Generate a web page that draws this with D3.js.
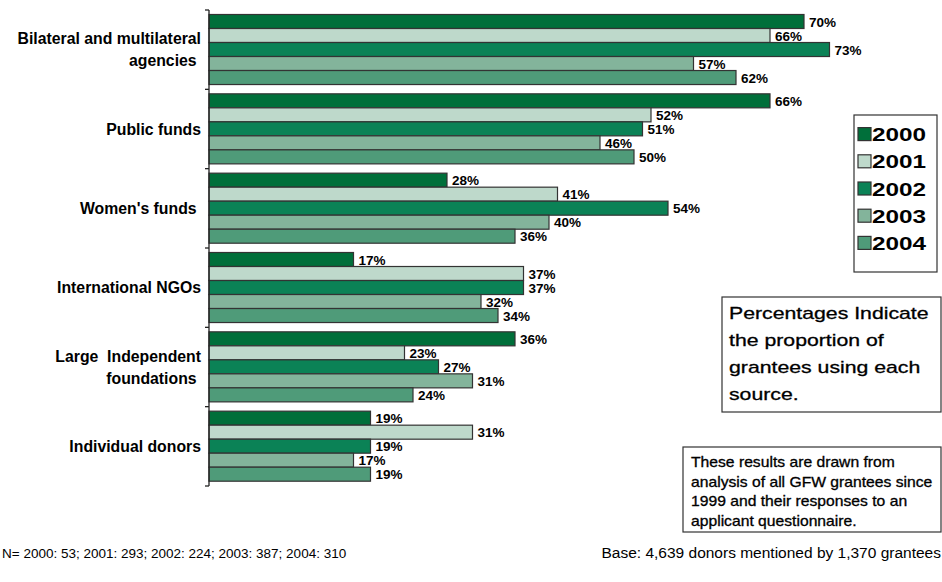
<!DOCTYPE html>
<html>
<head>
<meta charset="utf-8">
<script src="https://cdn.jsdelivr.net/npm/d3@7"></script>
<style>
  body { margin: 0; background: #fff; }
  text { font-family: "Liberation Sans", Arial, sans-serif; white-space: pre; }
</style>
</head>
<body>
<svg width="942" height="582"></svg>
<script>
// ---- data ----
let categories = ["Bilateral and multilateral\nagencies ", "Public funds", "Women's funds ",
                  "International NGOs", "Large  Independent\nfoundations ", "Individual donors"];
let years = ["2000", "2001", "2002", "2003", "2004"];
let v2000 = [70, 66, 28, 17, 36, 19];
let v2001 = [66, 52, 41, 37, 23, 31];
let v2002 = [73, 51, 54, 37, 27, 19];
let v2003 = [57, 46, 40, 32, 31, 17];
let v2004 = [62, 50, 36, 34, 24, 19];
let series = [v2000, v2001, v2002, v2003, v2004];
let colors = ["#006f3a", "#bed9cb", "#0b8256", "#83b49b", "#4f9b79"];

let note1 = ["Percentages Indicate", "the proportion of", "grantees using each", "source."];
let note2 = ["These results are drawn from", "analysis of all GFW grantees since",
             "1999 and their responses to an", "applicant questionnaire."];
let footLeft = "N= 2000: 53; 2001: 293; 2002: 224; 2003: 387; 2004: 310";
let footRight = "Base: 4,639 donors mentioned by 1,370 grantees";

//--------------------------------------
let svg = d3.select("svg");

let x = d3.scaleLinear().domain([0, 100]).range([209, 1059]);
let y = d3.scaleBand().domain(categories).range([10, 486]);
let yInner = d3.scaleBand().domain(years).range([4.5, y.bandwidth() - 4.8]);

let rows = [];
categories.forEach(function(c, i) {
  years.forEach(function(yr, j) {
    rows.push({cat: c, year: yr, value: series[j][i], color: colors[j]});
  });
});

let bars = svg.append("g").attr("class", "bars")
  .selectAll("rect")
  .data(rows)
  .enter().append("rect")
    .attr("x", x(0))
    .attr("y", function(d) { return y(d.cat) + yInner(d.year); })
    .attr("width", function(d) { return x(d.value) - x(0); })
    .attr("height", yInner.bandwidth())
    .attr("fill", function(d) { return d.color; })
    .style("stroke", "#333")
    .style("stroke-width", 1.2);

svg.append("g").attr("class", "values")
  .selectAll("text")
  .data(rows)
  .enter().append("text")
    .attr("x", function(d) { return x(d.value) + 5; })
    .attr("y", function(d) { return y(d.cat) + yInner(d.year) + yInner.bandwidth() / 2 + 5; })
    .style("font-size", "13.5px")
    .style("font-weight", "bold")
    .text(function(d) { return d.value + "%"; });

// axis: line plus ticks on the band edges
let edges = categories.map(function(c) { return y(c); }).concat([y.range()[1]]);
let axis = svg.append("g").attr("class", "axis");
axis.append("line")
  .attr("x1", x(0)).attr("x2", x(0))
  .attr("y1", edges[0]).attr("y2", edges[edges.length - 1])
  .style("stroke", "#222").style("stroke-width", 1.3);
axis.selectAll(".tick")
  .data(edges)
  .enter().append("line")
    .attr("class", "tick")
    .attr("x1", x(0) - 4).attr("x2", x(0))
    .attr("y1", function(d) { return d; }).attr("y2", function(d) { return d; })
    .style("stroke", "#222").style("stroke-width", 1.3);

// category labels
let catLabels = svg.append("g").attr("class", "cats")
  .selectAll("text")
  .data(categories)
  .enter().append("text")
    .attr("text-anchor", "end")
    .style("font-size", "15.8px")
    .style("font-weight", "bold");
catLabels.each(function(c) {
  let lines = c.split("\n");
  let mid = y(c) + y.bandwidth() / 2;
  let t = d3.select(this);
  lines.forEach(function(l, k) {
    t.append("tspan")
      .attr("x", 201)
      .attr("y", mid + 5.5 + (k - (lines.length - 1) / 2) * 22)
      .text(l);
  });
});

// legend
let legend = svg.append("g").attr("class", "legend");
legend.append("rect")
  .attr("x", 854).attr("y", 115).attr("width", 83).attr("height", 157)
  .attr("fill", "#fff").style("stroke", "#333").style("stroke-width", 1.2);
let legY = d3.scaleBand().domain(years).range([121, 257]);
let item = legend.selectAll(".item")
  .data(years)
  .enter().append("g")
    .attr("class", "item")
    .attr("transform", function(d) { return "translate(0," + (legY(d) + legY.bandwidth() / 2) + ")"; });
item.append("rect")
  .attr("x", 858).attr("y", -7).attr("width", 13).attr("height", 13)
  .attr("fill", function(d, i) { return colors[i]; })
  .style("stroke", "#333").style("stroke-width", 1.2);
item.append("text")
  .attr("transform", "translate(872,6.5) scale(1.35,1)")
  .style("font-size", "18px")
  .style("font-weight", "bold")
  .text(function(d) { return d; });

// note boxes
function noteBox(lines, bx, by, bw, bh, tx, ty, size, lh, sx) {
  let g = svg.append("g");
  g.append("rect")
    .attr("x", bx).attr("y", by).attr("width", bw).attr("height", bh)
    .attr("fill", "#fff").style("stroke", "#333").style("stroke-width", 1.2);
  g.selectAll("text")
    .data(lines)
    .enter().append("text")
      .attr("transform", function(d, i) { return "translate(" + tx + "," + (ty + i * lh) + ") scale(" + sx + ",1)"; })
      .style("font-size", size + "px")
      .style("stroke", "#000")
      .style("stroke-width", 0.3)
      .text(function(d) { return d; });
}
noteBox(note1, 722, 297, 219, 115, 729, 319, 17, 27, 1.25);
noteBox(note2, 683, 447, 258, 85, 691, 467, 14, 19.5, 1.12);

// footers
svg.append("text")
  .attr("x", 2).attr("y", 558)
  .style("font-size", "13.5px")
  .text(footLeft);
svg.append("text")
  .attr("x", 941).attr("y", 558)
  .attr("text-anchor", "end")
  .style("font-size", "15.5px")
  .text(footRight);
</script>
</body>
</html>
